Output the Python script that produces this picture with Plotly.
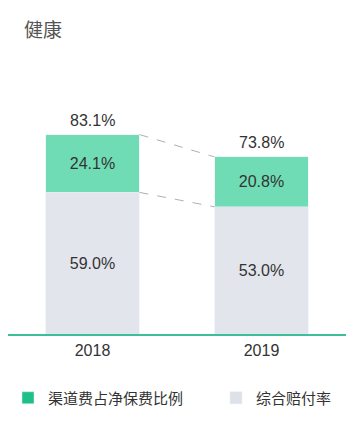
import plotly.graph_objects as go

categories = ["2018", "2019"]
channel_fee = [24.1, 20.8]      # 渠道费占净保费比例
loss_ratio = [59.0, 53.0]       # 综合赔付率
totals = [83.1, 73.8]
series_names = ["渠道费占净保费比例", "综合赔付率"]
title_text = "健康"

GREEN = "#6fdcb6"
GREEN_LEG = "#1fbf8a"
GRAY = "#e3e5ec"
GRAY_LEG = "#dfe1e8"
FONT = "Liberation Sans, Arial, Noto Sans CJK SC, sans-serif"
CJK = "Noto Sans CJK SC, sans-serif"
BW = 0.556

xs = list(range(len(categories)))

fig = go.Figure()
fig.add_trace(go.Bar(
    x=xs, y=loss_ratio, width=BW, name=series_names[1], marker_color=GRAY,
    text=[f"{v:.1f}%" for v in loss_ratio], textposition="inside",
    insidetextanchor="middle", textfont=dict(size=16, color="#333333", family=FONT),
    showlegend=False, hoverinfo="skip",
))
fig.add_trace(go.Bar(
    x=xs, y=channel_fee, width=BW, name=series_names[0], marker_color=GREEN,
    text=[f"{v:.1f}%" for v in channel_fee], textposition="inside",
    insidetextanchor="middle", textfont=dict(size=16, color="#333333", family=FONT),
    showlegend=False, hoverinfo="skip",
))
# connector dashed lines
for vals in (totals, loss_ratio):
    fig.add_trace(go.Scatter(
        x=[xs[0] + BW / 2, xs[1] - BW / 2], y=vals, mode="lines",
        line=dict(color="#b0b0b0", width=1, dash="dash"),
        showlegend=False, hoverinfo="skip",
    ))
for xi, t in zip(xs, totals):
    fig.add_annotation(x=xi, y=t, xref="x", yref="y", text=f"{t:.1f}%",
                       showarrow=False, yanchor="bottom", yshift=4,
                       font=dict(size=16, color="#333333", family=FONT))
# legend entries
fig.add_trace(go.Bar(x=[None], y=[None], name=series_names[0], marker_color=GREEN_LEG,
                     legend="legend", showlegend=True))
fig.add_trace(go.Bar(x=[None], y=[None], name=series_names[1], marker_color=GRAY_LEG,
                     legend="legend2", showlegend=True))

leg_common = dict(xref="container", yref="container", yanchor="middle", xanchor="left",
                  y=1 - 398 / 422, bgcolor="rgba(0,0,0,0)",
                  font=dict(size=15, color="#333333", family=CJK))

fig.update_layout(
    width=362, height=422,
    barmode="stack",
    plot_bgcolor="white", paper_bgcolor="white",
    margin=dict(l=8, r=16, t=94, b=88, autoexpand=False),
    font=dict(family=FONT, color="#333333"),
    title=dict(text=title_text, x=24 / 362, xanchor="left", xref="container",
               y=1 - 30 / 422, yanchor="middle", yref="container",
               font=dict(size=19, color="#555555", family=CJK)),
    xaxis=dict(range=[-0.5, 1.5], tickmode="array", tickvals=xs, ticktext=categories,
               showline=True, linecolor="#3dbf9c", linewidth=2, showgrid=False,
               zeroline=False, ticks="outside", ticklen=1, tickcolor="rgba(0,0,0,0)",
               tickfont=dict(size=16, color="#333333", family=FONT)),
    yaxis=dict(range=[0, 100], visible=False, showgrid=False, zeroline=False),
    showlegend=True,
    legend=dict(x=8 / 362, **leg_common),
    legend2=dict(x=216 / 362, **leg_common),
)

fig.write_html("out.html", config={"displayModeBar": False},
               post_script="document.body.style.margin='0';")
